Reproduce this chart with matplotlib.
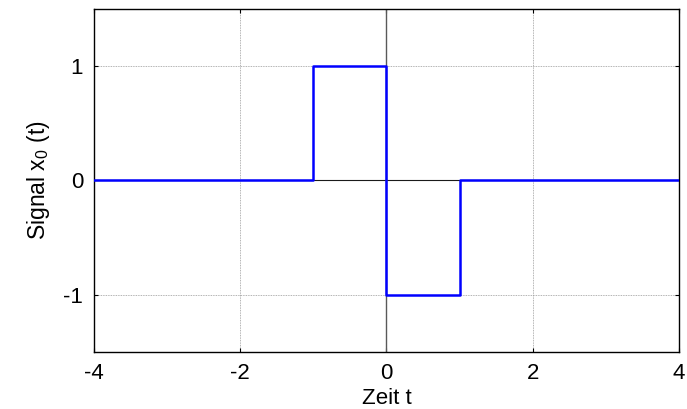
import matplotlib
matplotlib.use("Agg")
import matplotlib.pyplot as plt

# -----------------------------------
# Data
# -----------------------------------

t = [-4, -1, -1, 0, 0, 1, 1, 4]
x0 = [0, 0, 1, 1, -1, -1, 0, 0]

x_ticks = [-4, -2, 0, 2, 4]
y_ticks = [-1, 0, 1]

plt.rcParams["font.family"] = ["Liberation Sans", "DejaVu Sans"]
plt.rcParams["mathtext.fontset"] = "custom"
plt.rcParams["mathtext.rm"] = "Liberation Sans"
plt.rcParams["mathtext.it"] = "Liberation Sans"

# -----------------------------------
# Plot
# -----------------------------------

fig = plt.figure(figsize=(6.87, 4.09), dpi=100)
ax = fig.add_axes([0.137, 0.139, 0.851, 0.840])

ax.grid(True, linestyle=(0, (1, 1)), linewidth=0.6, color="0.6")
ax.axhline(0, color="0.1", linewidth=0.8, zorder=2)
ax.axvline(0, color="0.35", linewidth=1.0, zorder=2)

ax.plot(t, x0, color="#0000ff", linewidth=1.8, zorder=3)

ax.set_xlim(-4, 4)
ax.set_ylim(-1.5, 1.5)
ax.set_xticks(x_ticks)
ax.set_yticks(y_ticks)
ax.set_xticklabels([str(v) for v in x_ticks])
ax.set_yticklabels([str(v) for v in y_ticks])

ax.tick_params(direction="in", length=3, width=0.8, labelsize=16,
               top=True, right=True, pad=8)
for s in ax.spines.values():
    s.set_linewidth(1.0)

ax.set_xlabel("Zeit t", fontsize=16, labelpad=3)
ax.set_ylabel(r"Signal x$_{\mathregular{0}}$ (t)", fontsize=16.5, labelpad=8)

fig.savefig("out.png", dpi=100)
